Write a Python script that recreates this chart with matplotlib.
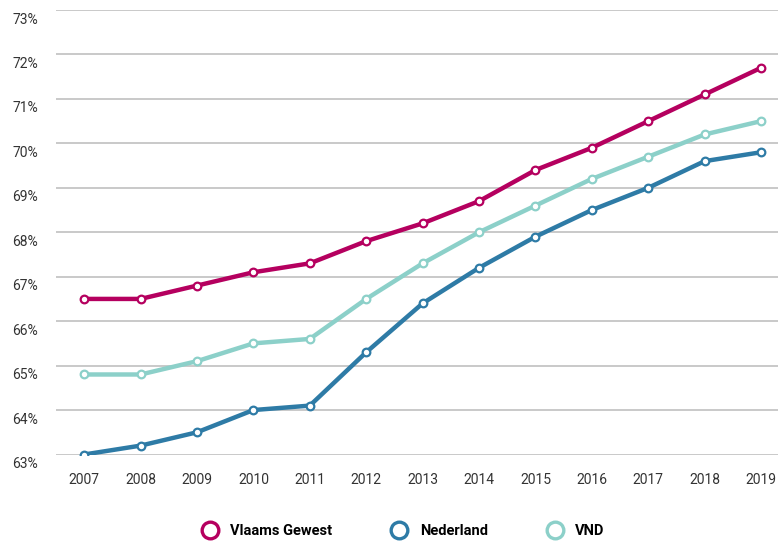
import numpy as np
import matplotlib
matplotlib.use("Agg")
import matplotlib.pyplot as plt
from matplotlib.lines import Line2D
from matplotlib.transforms import ScaledTranslation

years = [2007, 2008, 2009, 2010, 2011, 2012, 2013, 2014, 2015, 2016, 2017, 2018, 2019]
vlaams = [66.5, 66.5, 66.8, 67.1, 67.3, 67.8, 68.2, 68.7, 69.4, 69.9, 70.5, 71.1, 71.7]
nederland = [63.0, 63.2, 63.5, 64.0, 64.1, 65.3, 66.4, 67.2, 67.9, 68.5, 69.0, 69.6, 69.8]
vnd = [64.8, 64.8, 65.1, 65.5, 65.6, 66.5, 67.3, 68.0, 68.6, 69.2, 69.7, 70.2, 70.5]
yticks = list(range(63, 74))

# kleuren
C_VL = "#B5005F"
C_NL = "#2E7BA6"
C_VND = "#8CD0C9"

plt.rcParams['font.family'] = ['Roboto', 'DejaVu Sans']

fig = plt.figure(figsize=(7.78, 5.42), dpi=100)
ax = fig.add_axes([56 / 778, 1 - 454.5 / 542, 1 - 56 / 778, (454.5 - 10) / 542])

series = [("Vlaams Gewest", vlaams, C_VL), ("Nederland", nederland, C_NL), ("VND", vnd, C_VND)]
# volgorde tekenen: VND onder, Vlaams boven
for name, vals, col in [series[2], series[1], series[0]]:
    ax.plot(years, vals, color=col, lw=3.2, marker="o", ms=5.5, mfc="white",
            mec=col, mew=1.6, solid_capstyle="round", zorder=3)

ax.set_ylim(63, 73)
ax.set_xlim(2006.5, 2019.3)
ax.set_yticks(yticks)
ax.set_yticklabels([f"{v}%" for v in yticks])
ax.set_xticks(years)
ax.set_xticklabels([str(y) for y in years])
ax.grid(axis="y", color="#c0c0c0", lw=1.2, zorder=0)
ax.grid(axis="x", visible=False)
for s in ax.spines.values():
    s.set_visible(False)
ax.tick_params(axis="both", length=0, labelsize=10, labelcolor="#333333")
ax.tick_params(axis="y", pad=13)
ax.tick_params(axis="x", pad=13)

# y-labels iets onder de gridlijn
off = ScaledTranslation(0, -8 / 100, fig.dpi_scale_trans)
for lab in ax.get_yticklabels():
    lab.set_transform(lab.get_transform() + off)

handles = [Line2D([], [], ls="none", marker="o", ms=12, mfc="white", mec=c, mew=2.4)
           for _, _, c in series]
fig.legend(handles, [n for n, _, _ in series], loc="center", bbox_to_anchor=(0.514, 1 - 531 / 542),
           ncol=3, frameon=False, handletextpad=0.4, columnspacing=3.6,
           prop={"weight": "bold", "size": 10.5})

fig.savefig("out.png", dpi=100)
